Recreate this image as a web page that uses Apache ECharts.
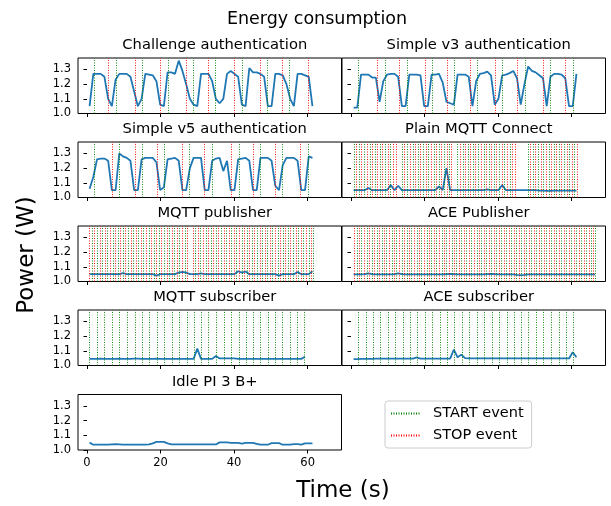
<!DOCTYPE html>
<html>
<head>
<meta charset="utf-8">
<script src="https://cdn.jsdelivr.net/npm/echarts@6/dist/echarts.min.js"></script>
<style>html,body{margin:0;padding:0;background:#fff}#chart{width:611px;height:506px}</style>
</head>
<body>
<div id="chart"></div>
<script>
// tick labels
var xTicks = [0, 20, 40, 60];
var yTicks = [1.0, 1.1, 1.2, 1.3];

var panelTitles = ['Challenge authentication', 'Simple v3 authentication', 'Simple v5 authentication',
    'Plain MQTT Connect', 'MQTT publisher', 'ACE Publisher', 'MQTT subscriber', 'ACE subscriber', 'Idle PI 3 B+'];

// power readings (W), one per second
var challengePower = [1.05, 1.27, 1.27, 1.27, 1.25, 1.10, 1.05, 1.23, 1.27, 1.27,
    1.27, 1.25, 1.15, 1.05, 1.10, 1.27, 1.265, 1.26, 1.22, 1.06,
    1.05, 1.28, 1.28, 1.27, 1.36, 1.29, 1.20, 1.10, 1.06, 1.05,
    1.27, 1.27, 1.27, 1.22, 1.10, 1.07, 1.10, 1.27, 1.29, 1.27,
    1.25, 1.06, 1.05, 1.31, 1.28, 1.28, 1.27, 1.25, 1.05, 1.05,
    1.27, 1.27, 1.26, 1.20, 1.10, 1.05, 1.27, 1.27, 1.26, 1.25, 1.05];
var v3Power = [1.04, 1.04, 1.265, 1.265, 1.265, 1.245, 1.245, 1.08, 1.22, 1.265,
    1.27, 1.27, 1.25, 1.05, 1.05, 1.265, 1.265, 1.265, 1.26, 1.05,
    1.05, 1.265, 1.265, 1.27, 1.21, 1.08, 1.07, 1.06, 1.265, 1.265,
    1.265, 1.25, 1.05, 1.22, 1.27, 1.275, 1.285, 1.26, 1.06, 1.10,
    1.26, 1.265, 1.275, 1.29, 1.24, 1.06, 1.20, 1.32, 1.29, 1.28,
    1.26, 1.24, 1.05, 1.25, 1.27, 1.27, 1.265, 1.24, 1.05, 1.05, 1.27];
var v5Power = [1.06, 1.14, 1.26, 1.265, 1.265, 1.25, 1.05, 1.05, 1.30, 1.28,
    1.27, 1.25, 1.05, 1.05, 1.26, 1.27, 1.27, 1.27, 1.24, 1.05,
    1.07, 1.26, 1.265, 1.27, 1.25, 1.05, 1.05, 1.20, 1.27, 1.27,
    1.27, 1.05, 1.05, 1.25, 1.265, 1.27, 1.18, 1.25, 1.05, 1.05,
    1.26, 1.265, 1.27, 1.25, 1.05, 1.05, 1.27, 1.27, 1.27, 1.25,
    1.08, 1.05, 1.22, 1.27, 1.27, 1.27, 1.25, 1.05, 1.05, 1.28, 1.27];
var connectPower = [1.05, 1.05, 1.05, 1.05, 1.065, 1.05, 1.05, 1.05, 1.05, 1.05,
    1.085, 1.05, 1.08, 1.05, 1.05, 1.05, 1.05, 1.05, 1.05, 1.05,
    1.05, 1.05, 1.05, 1.075, 1.05, 1.20, 1.05, 1.05, 1.05, 1.05,
    1.05, 1.05, 1.05, 1.05, 1.05, 1.05, 1.055, 1.05, 1.05, 1.05,
    1.085, 1.05, 1.05, 1.05, 1.05, 1.05, 1.05, 1.05, 1.05, 1.05,
    1.047, 1.047, 1.045, 1.045, 1.047, 1.047, 1.047, 1.047, 1.047, 1.047, 1.047];
var publisherPower = [1.05, 1.05, 1.05, 1.05, 1.05, 1.05, 1.05, 1.05, 1.05, 1.057,
    1.05, 1.05, 1.05, 1.05, 1.05, 1.05, 1.05, 1.05, 1.04, 1.05,
    1.05, 1.05, 1.05, 1.05, 1.06, 1.065, 1.06, 1.05, 1.05, 1.05,
    1.055, 1.05, 1.05, 1.05, 1.05, 1.05, 1.05, 1.05, 1.05, 1.05,
    1.07, 1.06, 1.068, 1.05, 1.05, 1.05, 1.05, 1.05, 1.05, 1.05,
    1.05, 1.04, 1.05, 1.05, 1.05, 1.05, 1.065, 1.05, 1.05, 1.05, 1.07];
var acePubPower = [1.048, 1.048, 1.048, 1.05, 1.055, 1.05, 1.048, 1.048, 1.048, 1.048,
    1.048, 1.05, 1.055, 1.05, 1.048, 1.048, 1.048, 1.048, 1.048, 1.048,
    1.048, 1.048, 1.048, 1.048, 1.048, 1.05, 1.052, 1.05, 1.048, 1.048,
    1.048, 1.048, 1.048, 1.048, 1.048, 1.048, 1.05, 1.052, 1.05, 1.048,
    1.048, 1.048, 1.048, 1.048, 1.045, 1.043, 1.045, 1.048, 1.048, 1.048,
    1.048, 1.048, 1.048, 1.048, 1.048, 1.048, 1.048, 1.048, 1.048, 1.048,
    1.048, 1.048, 1.048, 1.048, 1.048, 1.048];
var subPower = [1.045, 1.045, 1.045, 1.047, 1.045, 1.045, 1.045, 1.045, 1.047, 1.045,
    1.045, 1.045, 1.047, 1.047, 1.045, 1.045, 1.045, 1.045, 1.047, 1.045,
    1.045, 1.045, 1.045, 1.045, 1.045, 1.045, 1.045, 1.045, 1.045, 1.115,
    1.045, 1.045, 1.045, 1.045, 1.065, 1.048, 1.048, 1.048, 1.048, 1.048,
    1.045, 1.045, 1.045, 1.045, 1.045, 1.045, 1.045, 1.045, 1.045, 1.045,
    1.045, 1.045, 1.045, 1.045, 1.045, 1.045, 1.045, 1.045, 1.06];
var aceSubPower = [1.043, 1.043, 1.045, 1.045, 1.045, 1.045, 1.047, 1.047, 1.047, 1.047,
    1.047, 1.047, 1.047, 1.047, 1.047, 1.047, 1.047, 1.055, 1.047, 1.047,
    1.047, 1.047, 1.047, 1.047, 1.047, 1.047, 1.047, 1.108, 1.056, 1.074,
    1.05, 1.048, 1.048, 1.048, 1.048, 1.048, 1.048, 1.048, 1.048, 1.048,
    1.048, 1.048, 1.048, 1.048, 1.048, 1.048, 1.048, 1.048, 1.048, 1.048,
    1.048, 1.048, 1.048, 1.048, 1.048, 1.048, 1.048, 1.048, 1.048, 1.09, 1.056];
var idlePower = [1.05, 1.036, 1.036, 1.036, 1.036, 1.036, 1.038, 1.04, 1.038, 1.036,
    1.036, 1.036, 1.036, 1.036, 1.036, 1.036, 1.038, 1.045, 1.055, 1.055,
    1.055, 1.045, 1.038, 1.038, 1.038, 1.038, 1.038, 1.038, 1.038, 1.038,
    1.038, 1.038, 1.038, 1.038, 1.038, 1.052, 1.052, 1.052, 1.048, 1.048,
    1.048, 1.044, 1.048, 1.048, 1.048, 1.042, 1.036, 1.036, 1.036, 1.047,
    1.047, 1.047, 1.036, 1.036, 1.036, 1.04, 1.04, 1.036, 1.045, 1.045, 1.045];

// START / STOP event times (s)
var challengeStart = [1.9, 8.0, 15.0, 22.0, 29.0, 35.0, 42.2, 49.0, 55.1];
var challengeStop = [5.9, 13.0, 19.9, 27.0, 32.9, 40.0, 47.0, 53.1, 60.1];
var v3Start = [2.1, 9.2, 15.2, 22.2, 28.2, 34.3, 41.2, 47.4, 54.2, 60.3];
var v3Stop = [7.1, 13.2, 20.2, 26.1, 32.3, 39.3, 45.3, 52.4, 58.3];
var v5Start = [1.9, 8.9, 15.0, 20.9, 27.9, 34.0, 41.3, 47.1, 53.1, 60.1];
var v5Stop = [6.9, 13.0, 19.0, 25.9, 32.0, 39.1, 45.1, 51.2, 58.1];
var connectStart = [0.9, 2.3, 3.7, 5.1, 6.6, 8.0, 9.4, 10.8, 14.0, 15.4, 16.9, 18.3, 19.7, 21.1, 22.6,
    24.0, 25.4, 26.8, 29.0, 30.4, 31.8, 33.2, 34.7, 36.1, 37.5, 38.9, 40.4, 41.8, 43.2, 48.1,
    49.5, 50.9, 52.3, 53.8, 55.2, 56.6, 58.0, 59.4, 60.8];
var connectStop = [1.5, 2.9, 4.4, 5.8, 7.2, 8.6, 10.1, 11.5, 12.2, 14.6, 16.1, 17.5, 18.9, 20.4, 21.8,
    23.2, 24.6, 26.1, 27.3, 29.6, 31.1, 32.5, 33.9, 35.3, 36.8, 38.2, 39.6, 41.0, 42.5, 43.9,
    44.7, 48.8, 50.2, 51.6, 53.0, 54.5, 55.9, 57.3, 58.7, 60.1, 61.4];
var publisherStart = [1.4, 2.8, 4.2, 5.6, 7.0, 8.4, 9.8, 11.2, 12.6, 14.0, 15.4, 16.8, 18.2, 19.6, 21.0,
    22.4, 23.8, 25.2, 26.6, 29.5, 30.9, 32.3, 33.7, 35.1, 36.5, 37.9, 39.3, 40.7, 42.1, 43.5,
    44.9, 46.3, 47.7, 49.1, 50.5, 51.9, 53.3, 54.7, 56.1, 57.5, 58.9, 60.3, 61.4];
var publisherStop = [0.7, 2.1, 3.5, 4.9, 6.3, 7.7, 9.1, 10.5, 11.9, 13.3, 14.7, 16.1, 17.5, 18.9, 20.3,
    21.7, 23.1, 24.5, 25.9, 27.3, 28.8, 30.2, 31.6, 33.0, 34.4, 35.8, 37.2, 38.6, 40.0, 41.4,
    42.8, 44.2, 45.6, 47.0, 48.4, 49.8, 51.2, 52.6, 54.0, 55.4, 56.8, 58.2, 59.6, 61.0];
var acePubStart = [1.6, 2.9, 4.3, 5.7, 7.0, 8.4, 9.7, 11.1, 12.4, 13.8, 15.2, 16.5, 17.9, 19.2, 20.6,
    21.9, 23.3, 24.7, 26.0, 27.4, 28.7, 30.1, 31.4, 32.8, 34.2, 35.5, 36.9, 38.2, 39.6, 40.9,
    42.3, 43.7, 45.0, 46.4, 47.7, 49.1, 50.4, 51.8, 53.2, 54.5, 55.9, 57.2, 58.6, 59.9, 61.3,
    62.7, 64.0, 65.4, 66.4];
var acePubStop = [0.9, 2.3, 3.6, 5.0, 6.3, 7.7, 9.0, 10.4, 11.8, 13.1, 14.5, 15.8, 17.2, 18.5, 19.9,
    21.3, 22.6, 24.0, 25.3, 26.7, 28.0, 29.4, 30.8, 32.1, 33.5, 34.8, 36.2, 37.5, 38.9, 40.3,
    41.6, 43.0, 44.3, 45.7, 47.0, 48.4, 49.8, 51.1, 52.5, 53.8, 55.2, 56.5, 57.9, 59.3, 60.6,
    62.0, 63.3, 64.7, 66.0];
var subStart = [0.7, 2.8, 4.8, 6.8, 8.9, 10.9, 13.0, 14.9, 17.0, 19.0, 21.1, 23.1, 25.2, 27.2, 29.1,
    31.1, 33.1, 35.2, 37.2, 39.3, 41.3, 43.2, 45.1, 47.1, 49.2, 51.2, 53.2, 55.3, 57.2, 59.2];
var aceSubStart = [1.9, 4.1, 6.0, 8.0, 10.1, 12.1, 14.1, 16.1, 18.1, 20.2, 22.2, 24.3, 26.3, 28.2, 30.2,
    32.2, 34.3, 36.3, 38.4, 40.4, 42.4, 44.4, 46.3, 48.3, 50.3, 52.4, 54.4, 56.5, 58.5, 60.4];

var panels = [
    {power: challengePower, start: challengeStart, stop: challengeStop},
    {power: v3Power, start: v3Start, stop: v3Stop},
    {power: v5Power, start: v5Start, stop: v5Stop},
    {power: connectPower, start: connectStart, stop: connectStop},
    {power: publisherPower, start: publisherStart, stop: publisherStop},
    {power: acePubPower, start: acePubStart, stop: acePubStop},
    {power: subPower, start: subStart, stop: []},
    {power: aceSubPower, start: aceSubStart, stop: []},
    {power: idlePower, start: [], stop: []}
];

var font = 'DejaVu Sans';
var colLeft = [78, 342], colWidth = 263.5;
var rowTop = [58, 142, 226, 310, 394.5], rowHeight = 55.5;
var green = '#008000', red = '#ff0000';

// sample times: first reading at 0.7 s, about 1 s apart
function pairs(values) {
    return values.map(function (v, i) {
        return [0.7 + i * 1.01, v];
    });
}

function eventSeries(name, color, times, i) {
    return {
        name: name,
        type: 'line',
        xAxisIndex: i,
        yAxisIndex: i,
        data: [],
        symbol: 'none',
        z: 1,
        lineStyle: {color: color, type: [1, 1.5], width: 1},
        itemStyle: {color: color},
        markLine: {
            silent: true,
            symbol: ['none', 'none'],
            label: {show: false},
            lineStyle: {color: color, type: [1, 1.5], width: 1, opacity: 0.9},
            data: times.map(function (t) {
                return {xAxis: t};
            })
        }
    };
}

var grids = [], xAxes = [], yAxes = [], series = [], titles = [];
titles.push({
    text: 'Energy consumption', left: 312, top: 5, textAlign: 'center',
    textStyle: {fontFamily: font, fontSize: 17.5, fontWeight: 'normal', color: '#000'}
});

panels.forEach(function (p, i) {
    var row = Math.floor(i / 2), col = i % 2;
    grids.push({
        left: colLeft[col], top: rowTop[row], width: colWidth, height: rowHeight,
        show: true, borderColor: '#000', borderWidth: 1, backgroundColor: 'transparent'
    });
    titles.push({
        text: panelTitles[i], left: colLeft[col] + colWidth / 2, top: rowTop[row] - 25, textAlign: 'center',
        textStyle: {fontFamily: font, fontSize: 14.7, fontWeight: 'normal', color: '#000'}
    });
    xAxes.push({
        type: 'value', gridIndex: i, min: -2.45, max: 69.2,
        axisLine: {show: false},
        splitLine: {show: false},
        axisTick: {show: true, customValues: xTicks, length: 3.5, lineStyle: {color: '#000'}},
        axisLabel: {show: i === 8, customValues: xTicks, margin: 7, color: '#000', fontSize: 11.5, fontFamily: font}
    });
    yAxes.push({
        type: 'value', gridIndex: i, min: 1.0, max: 1.378,
        axisLine: {show: false},
        splitLine: {show: false},
        axisTick: {show: true, customValues: yTicks, length: 3.5, lineStyle: {color: '#000'}},
        axisLabel: {
            show: col === 0, customValues: yTicks, margin: 7, color: '#000', fontSize: 11.5, fontFamily: font,
            formatter: function (v) {
                return v.toFixed(1);
            }
        }
    });
    if (p.start.length) series.push(eventSeries('START event', green, p.start, i));
    if (p.stop.length) series.push(eventSeries('STOP event', red, p.stop, i));
    series.push({
        type: 'line',
        name: 'power' + i,
        xAxisIndex: i,
        yAxisIndex: i,
        data: pairs(p.power),
        showSymbol: false,
        z: 3,
        lineStyle: {color: '#1f77b4', width: 1.8}
    });
});

var chart = echarts.init(document.getElementById('chart'));
chart.setOption({
    animation: false,
    title: titles,
    grid: grids,
    xAxis: xAxes,
    yAxis: yAxes,
    legend: {
        data: ['START event', 'STOP event'],
        orient: 'vertical',
        left: 385,
        top: 401,
        itemWidth: 30,
        itemHeight: 14,
        itemGap: 7,
        padding: [5, 8, 5, 5],
        borderColor: '#ccc',
        borderWidth: 1,
        borderRadius: 3,
        itemStyle: {opacity: 0, borderWidth: 0},
        textStyle: {fontFamily: font, fontSize: 14.5, color: '#000', padding: [0, 0, 0, 7]}
    },
    graphic: [
        {
            type: 'text', x: 27, y: 255, rotation: Math.PI / 2,
            style: {text: 'Power (W)', font: '23px "DejaVu Sans"', fill: '#000', textAlign: 'center', textVerticalAlign: 'middle'}
        },
        {
            type: 'text', x: 343, y: 491,
            style: {text: 'Time (s)', font: '23px "DejaVu Sans"', fill: '#000', textAlign: 'center', textVerticalAlign: 'middle'}
        }
    ],
    series: series
});
</script>
</body>
</html>
